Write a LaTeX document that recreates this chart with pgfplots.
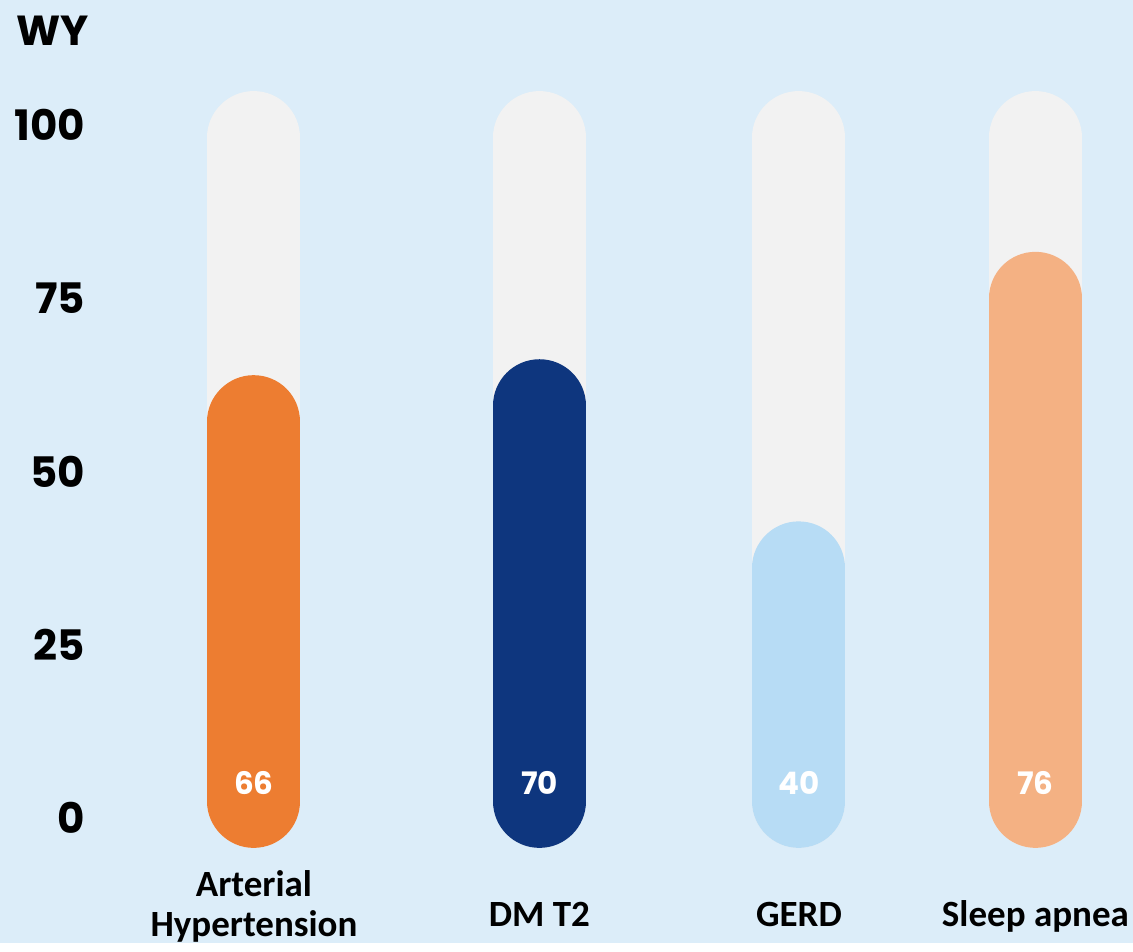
\documentclass[border=0pt]{standalone}
\usepackage{pgfplots}
\pgfplotsset{compat=1.18}
\usepackage{fontspec}
\setmainfont{Poppins}
\newfontfamily\carlito{Carlito Bold}

\definecolor{bg}{HTML}{DCEDF9}
\definecolor{track}{HTML}{F2F2F2}
\definecolor{c1}{HTML}{ED7D31}
\definecolor{c2}{HTML}{0E367E}
\definecolor{c3}{HTML}{B7DCF5}
\definecolor{c4}{HTML}{F4B183}

\begin{document}
\begin{tikzpicture}
\fill[bg] (0,0) rectangle (1133bp,943bp);
\begin{axis}[
  at={(100bp,0bp)}, anchor=south west,
  scale only axis, width=1033bp, height=943bp,
  xmin=100, xmax=1133, ymin=-18.04, ymax=118.04,
  axis line style={draw=none},
  major tick length=0pt,
  ytick={0,25,50,75,100},
  xtick={254,539.5,799,1035.5},
  xticklabels={{\raisebox{-10bp}{\begin{tabular}[b]{@{}c@{}}Arterial\\Hypertension\end{tabular}}},DM T2,GERD,Sleep apnea},
  xticklabel style={font=\carlito\fontsize{37bp}{40bp}\selectfont,
    anchor=base, yshift=17bp},
  yticklabel style={font=\bfseries\fontsize{42bp}{48bp}\selectfont,
    anchor=east, inner sep=0pt, xshift=-15bp},
  /pgf/number format/assume math mode=true,
  clip=false,
]
% grey tracks
\addplot[track, line width=93bp, line cap=round] coordinates {(254,2.4) (254,98.2)};
\addplot[track, line width=93bp, line cap=round] coordinates {(539.5,2.4) (539.5,98.2)};
\addplot[track, line width=93bp, line cap=round] coordinates {(799,2.4) (799,98.2)};
\addplot[track, line width=93bp, line cap=round] coordinates {(1035.5,2.4) (1035.5,98.2)};
% coloured bars
\addplot[c1, line width=93bp, line cap=round] coordinates {(254,2.4) (254,57.2)};
\addplot[c2, line width=93bp, line cap=round] coordinates {(539.5,2.4) (539.5,59.5)};
\addplot[c3, line width=93bp, line cap=round] coordinates {(799,2.4) (799,36.1)};
\addplot[c4, line width=93bp, line cap=round] coordinates {(1035.5,2.4) (1035.5,75.0)};
% value labels
\begin{scope}[every node/.style={white, anchor=base, font=\bfseries\fontsize{31bp}{34bp}\selectfont}]
\node at (axis cs:254,3.46) {66};
\node at (axis cs:539.5,3.46) {70};
\node at (axis cs:799,3.46) {40};
\node at (axis cs:1035.5,3.46) {76};
\end{scope}
\end{axis}
\node[anchor=base, font=\bfseries\fontsize{42bp}{46bp}\selectfont] at (53bp,898bp) {WY};
\end{tikzpicture}
\end{document}
